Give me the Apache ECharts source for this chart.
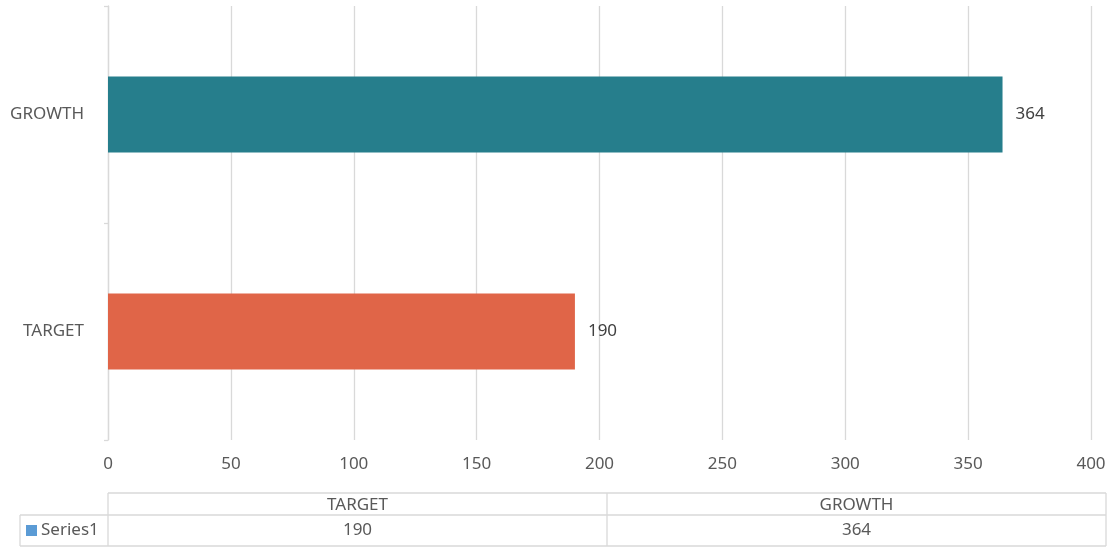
<!DOCTYPE html>
<html>
<head>
<meta charset="utf-8">
<title>GROWTH vs TARGET</title>
<script src="https://cdn.jsdelivr.net/npm/echarts@6/dist/echarts.min.js"></script>
<style>
  html, body { margin: 0; padding: 0; background: #ffffff; }
  #chart { width: 1113px; height: 547px; }
</style>
</head>
<body>
<div id="chart"></div>
<script>
// Chart data
const categories = ['TARGET', 'GROWTH'];
const seriesName = 'Series1';
const values = [190, 364];
const barColors = ['#E06548', '#267E8C'];
const xTicks = [0, 50, 100, 150, 200, 250, 300, 350, 400];

const FONT = '"Noto Sans", "Open Sans", sans-serif';
const FS = 17;
const TEXT = '#595959';
const LINE = '#d9d9d9';

const chart = echarts.init(document.getElementById('chart'), null, { renderer: 'canvas' });

// Data table under the plot: header row of categories, one row of values
function buildTable() {
  const left = 108, right = 1106, keyLeft = 20;
  const top = 493, mid = 515, bottom = 546;
  const colW = (right - left) / categories.length;
  const els = [];
  const line = (x1, y1, x2, y2) => ({
    type: 'line', silent: true,
    shape: { x1, y1, x2, y2 },
    style: { stroke: LINE, lineWidth: 1.3 }
  });
  // outer borders
  els.push(line(left, top, right, top));
  els.push(line(keyLeft, mid, right, mid));
  els.push(line(keyLeft, bottom, right, bottom));
  els.push(line(keyLeft, mid, keyLeft, bottom));
  for (let i = 0; i <= categories.length; i++) {
    const x = left + i * colW;
    els.push(line(x, top, x, bottom));
  }
  categories.forEach((c, i) => {
    const cx = left + (i + 0.5) * colW;
    els.push({
      type: 'text', silent: true, x: cx, y: (top + mid) / 2 + 1,
      style: { text: c, fill: TEXT, font: FS + 'px ' + FONT, align: 'center', verticalAlign: 'middle' }
    });
    els.push({
      type: 'text', silent: true, x: cx, y: (mid + bottom) / 2,
      style: { text: String(values[i]), fill: TEXT, font: FS + 'px ' + FONT, align: 'center', verticalAlign: 'middle' }
    });
  });
  // legend key + series name
  els.push({
    type: 'rect', silent: true,
    shape: { x: 26, y: 525, width: 11, height: 11 },
    style: { fill: '#5B9BD5' }
  });
  els.push({
    type: 'text', silent: true, x: 41, y: (mid + bottom) / 2,
    style: { text: seriesName, fill: TEXT, font: FS + 'px ' + FONT, align: 'left', verticalAlign: 'middle' }
  });
  return els;
}

chart.setOption({
  animation: false,
  backgroundColor: '#ffffff',
  textStyle: { fontFamily: FONT },
  grid: { left: 108, right: 22, top: 6, bottom: 107, containLabel: false },
  xAxis: {
    type: 'value',
    min: xTicks[0],
    max: xTicks[xTicks.length - 1],
    interval: xTicks[1] - xTicks[0],
    axisLine: { show: false },
    axisTick: { show: false },
    splitLine: { show: true, lineStyle: { color: LINE, width: 1.3 } },
    axisLabel: { color: TEXT, fontSize: FS, margin: 16, fontFamily: FONT }
  },
  yAxis: {
    type: 'category',
    data: categories,
    axisLine: { show: true, lineStyle: { color: LINE, width: 1.3 } },
    axisTick: { show: true, length: 4, lineStyle: { color: LINE, width: 1.3 } },
    axisLabel: { color: TEXT, fontSize: FS, margin: 24, fontFamily: FONT }
  },
  series: [{
    name: seriesName,
    type: 'bar',
    barWidth: '35%',
    data: values.map((v, i) => ({ value: v, itemStyle: { color: barColors[i] } })),
    label: {
      show: true,
      position: 'right',
      distance: 13,
      color: '#404040',
      fontSize: FS,
      fontFamily: FONT
    }
  }],
  graphic: buildTable()
});
</script>
</body>
</html>
